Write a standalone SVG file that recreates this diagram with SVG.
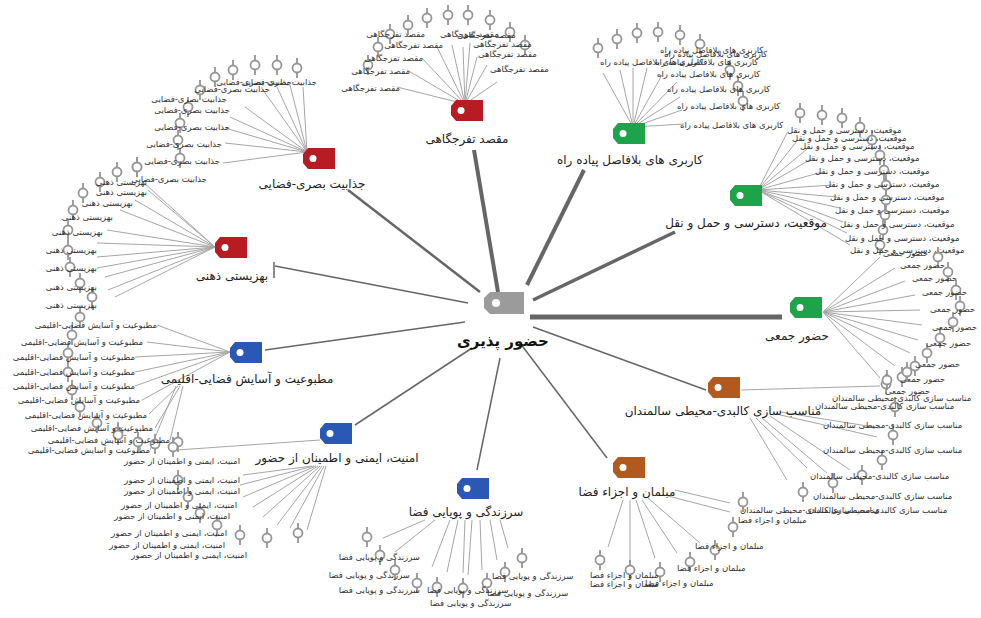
<svg xmlns="http://www.w3.org/2000/svg" xmlns:xlink="http://www.w3.org/1999/xlink" width="981" height="618" viewBox="0 0 981 618">
<style>
.bg{fill:#fff}
.main{stroke:#666;stroke-linecap:butt;fill:none}
.lk{stroke:#a6a6a6;stroke-width:1;fill:none}
.lf{font-family:"DejaVu Sans",sans-serif;font-size:8.5px;fill:#333}
.e{text-anchor:end}
.cat{font-family:"DejaVu Sans",sans-serif;font-size:12px;fill:#222;text-anchor:middle}
.ctr{font-family:"DejaVu Sans",sans-serif;font-size:15px;font-weight:bold;fill:#111;text-anchor:middle}
.red{fill:#b81c22}.grn{fill:#1ea34b}.brn{fill:#b25a1e}.blu{fill:#2b58b5}.gry{fill:#9b9b9b}
</style>
<defs>
<g id="pin" fill="#fff" stroke="#959595" stroke-width="1.8">
<line x1="0" y1="-10" x2="0" y2="-4.5"/><circle r="4.5"/><line x1="0" y1="4.5" x2="0" y2="10"/>
</g>
<g id="tag"><path d="M5,0 H32 V21 H5 L0,15 V6 Z"/><circle cx="10" cy="10.5" r="3.5" fill="#fff"/></g>
</defs>
<rect class="bg" width="981" height="618"/>

<g id="connectors">
<line class="main" x1="498" y1="292" x2="474" y2="150" stroke-width="4"/>
<line class="main" x1="527" y1="285" x2="584" y2="170" stroke-width="4"/>
<line class="main" x1="533" y1="300" x2="675" y2="232" stroke-width="3.5"/>
<line class="main" x1="530" y1="317" x2="782" y2="317" stroke-width="5"/>
<line class="main" x1="533" y1="327" x2="706" y2="390" stroke-width="1.5"/>
<line class="main" x1="520" y1="343" x2="607" y2="458" stroke-width="1.5"/>
<line class="main" x1="500" y1="358" x2="477" y2="470" stroke-width="1.5"/>
<line class="main" x1="472" y1="348" x2="355" y2="425" stroke-width="1.5"/>
<line class="main" x1="465" y1="322" x2="265" y2="350" stroke-width="1.5"/>
<line class="main" x1="468" y1="303" x2="275" y2="266" stroke-width="1.5"/>
<line class="main" x1="274" y1="262" x2="274" y2="278" stroke-width="1.5"/>
<line class="main" x1="480" y1="292" x2="348" y2="190" stroke-width="2.5"/>
<path class="lk" d="M465,104L397,87M465,104L407,70M465,104L422,58M465,104L437,47M465,104L452,45M465,104L463,47M465,104L470,43M465,104L477,57M465,104L487,65M465,104L497,82"/>
<path class="lk" d="M633,127L603,73M633,127L620,70M633,127L633,68M633,127L647,68M633,127L662,75M633,127L677,82M633,127L680,97M633,127L682,110M633,127L684,124"/>
<path class="lk" d="M758,190L787,133M758,190L797,141M758,190L807,149M758,190L813,158M758,190L822,172M758,190L832,185M758,190L837,197M758,190L840,208M758,190L843,222M758,190L847,233M758,190L850,245"/>
<path class="lk" d="M823,312L880,257M823,312L895,268M823,312L905,281M823,312L915,295M823,312L920,310M823,312L922,325M823,312L918,340M823,312L910,353M823,312L895,366M823,312L880,378"/>
<path class="lk" d="M741,390L880,386M750,418L787,480M756,418L807,468M762,418L827,473M770,416L850,470M776,414L877,437M780,412L880,428"/>
<path class="lk" d="M623,500L608,547M630,500L630,563M636,500L655,558M642,500L677,553M648,498L700,543M668,496L730,512M675,490L730,503"/>
<path class="lk" d="M425,520L383,538M435,520L395,552M450,520L432,567M458,520L447,572M465,520L463,573M472,520L468,575M480,520L482,570M490,520L497,560M500,520L508,548"/>
<path class="lk" d="M312,466L243,475M314,466L240,485M316,466L243,497M318,466L253,507M320,466L263,517M322,466L277,525M324,466L290,528M326,466L307,530M320,440L177,450"/>
<path class="lk" d="M230,352L157,325M230,352L147,342M230,352L135,357M230,352L135,372M230,352L135,386M230,352L142,400M178,386L149,414M180,386L155,428M183,386L170,440M176,386L150,450"/>
<path class="lk" d="M215,247L143,182M215,247L148,190M215,247L135,200M215,247L120,210M215,247L107,230M215,247L97,243M215,247L97,257M215,247L97,268M215,247L105,277M215,247L108,290M215,247L115,297"/>
<path class="lk" d="M307,152L303,87M307,152L290,85M307,152L277,87M307,152L263,90M307,152L245,107M307,152L230,117M307,152L225,128M307,152L225,143M307,152L223,163"/>
</g>

<g id="leaves-1">
<use href="#pin" x="368" y="65"/><use href="#pin" x="378" y="47"/><use href="#pin" x="390" y="34"/><use href="#pin" x="408" y="25"/><use href="#pin" x="427" y="18"/><use href="#pin" x="448" y="15"/><use href="#pin" x="468" y="15"/><use href="#pin" x="490" y="20"/><use href="#pin" x="510" y="32"/><use href="#pin" x="525" y="45"/>
<text class="lf e" x="400" y="91">مقصد تفرجگاهی</text>
<text class="lf e" x="410" y="74">مقصد تفرجگاهی</text>
<text class="lf e" x="423" y="61">مقصد تفرجگاهی</text>
<text class="lf e" x="443" y="48">مقصد تفرجگاهی</text>
<text class="lf e" x="425" y="37">مقصد تفرجگاهی</text>
<text class="lf" x="440" y="37">مقصد تفرجگاهی</text>
<text class="lf" x="457" y="38">مقصد تفرجگاهی</text>
<text class="lf" x="473" y="47">مقصد تفرجگاهی</text>
<text class="lf" x="478" y="57">مقصد تفرجگاهی</text>
<text class="lf" x="490" y="72">مقصد تفرجگاهی</text>
</g>

<g id="leaves-2">
<use href="#pin" x="598" y="48"/><use href="#pin" x="617" y="39"/><use href="#pin" x="637" y="33"/><use href="#pin" x="658" y="32"/><use href="#pin" x="680" y="35"/><use href="#pin" x="700" y="44"/><use href="#pin" x="730" y="70"/><use href="#pin" x="738" y="86"/><use href="#pin" x="743" y="101"/>
<text class="lf" x="660" y="53">کاربری های بلافاصل پیاده راه</text>
<text class="lf" x="664" y="57">کاربری های بلافاصل پیاده راه</text>
<text class="lf" x="600" y="65">کاربری های بلافاصل پیاده راه</text>
<text class="lf" x="655" y="65">کاربری های بلافاصل پیاده راه</text>
<text class="lf" x="657" y="77">کاربری های بلافاصل پیاده راه</text>
<text class="lf" x="667" y="92">کاربری های بلافاصل پیاده راه</text>
<text class="lf" x="677" y="109">کاربری های بلافاصل پیاده راه</text>
<text class="lf" x="680" y="128">کاربری های بلافاصل پیاده راه</text>
</g>

<g id="leaves-3">
<use href="#pin" x="800" y="113"/><use href="#pin" x="822" y="115"/><use href="#pin" x="842" y="118"/><use href="#pin" x="860" y="127"/><use href="#pin" x="872" y="140"/><use href="#pin" x="880" y="155"/><use href="#pin" x="884" y="170"/><use href="#pin" x="886" y="185"/><use href="#pin" x="886" y="200"/><use href="#pin" x="885" y="215"/><use href="#pin" x="883" y="230"/><use href="#pin" x="880" y="245"/>
<text class="lf" x="787" y="133">موقعیت، دسترسی و حمل و نقل</text>
<text class="lf" x="792" y="141">موقعیت، دسترسی و حمل و نقل</text>
<text class="lf" x="800" y="149">موقعیت، دسترسی و حمل و نقل</text>
<text class="lf" x="805" y="161">موقعیت، دسترسی و حمل و نقل</text>
<text class="lf" x="815" y="174">موقعیت، دسترسی و حمل و نقل</text>
<text class="lf" x="825" y="187">موقعیت، دسترسی و حمل و نقل</text>
<text class="lf" x="830" y="200">موقعیت، دسترسی و حمل و نقل</text>
<text class="lf" x="835" y="213">موقعیت، دسترسی و حمل و نقل</text>
<text class="lf" x="840" y="227">موقعیت، دسترسی و حمل و نقل</text>
<text class="lf" x="845" y="241">موقعیت، دسترسی و حمل و نقل</text>
<text class="lf" x="850" y="253">موقعیت، دسترسی و حمل و نقل</text>
</g>

<g id="leaves-4">
<use href="#pin" x="938" y="257"/><use href="#pin" x="948" y="272"/><use href="#pin" x="956" y="290"/><use href="#pin" x="960" y="306"/><use href="#pin" x="953" y="322"/><use href="#pin" x="940" y="338"/><use href="#pin" x="927" y="353"/><use href="#pin" x="915" y="366"/><use href="#pin" x="902" y="377"/><use href="#pin" x="886" y="384"/>
<text class="lf" x="883" y="256">حضور جمعی</text>
<text class="lf" x="900" y="268">حضور جمعی</text>
<text class="lf" x="912" y="281">حضور جمعی</text>
<text class="lf" x="922" y="295">حضور جمعی</text>
<text class="lf" x="930" y="312">حضور جمعی</text>
<text class="lf" x="932" y="330">حضور جمعی</text>
<text class="lf" x="926" y="346">حضور جمعی</text>
<text class="lf" x="915" y="367">حضور جمعی</text>
<text class="lf" x="900" y="382">حضور جمعی</text>
<text class="lf" x="885" y="394">حضور جمعی</text>
</g>

<g id="leaves-5">
<use href="#pin" x="887" y="380"/><use href="#pin" x="907" y="372"/><use href="#pin" x="895" y="407"/><use href="#pin" x="893" y="435"/><use href="#pin" x="882" y="460"/><use href="#pin" x="862" y="475"/><use href="#pin" x="833" y="483"/><use href="#pin" x="803" y="492"/><use href="#pin" x="743" y="502"/>
<text class="lf" x="832" y="401">مناسب سازی کالبدی-محیطی سالمندان</text>
<text class="lf" x="815" y="409">مناسب سازی کالبدی-محیطی سالمندان</text>
<text class="lf" x="823" y="428">مناسب سازی کالبدی-محیطی سالمندان</text>
<text class="lf" x="823" y="453">مناسب سازی کالبدی-محیطی سالمندان</text>
<text class="lf" x="810" y="479">مناسب سازی کالبدی-محیطی سالمندان</text>
<text class="lf" x="813" y="499">مناسب سازی کالبدی-محیطی سالمندان</text>
<text class="lf" x="808" y="513">مناسب سازی کالبدی-محیطی سالمندان</text>
<text class="lf" x="740" y="513">مناسب سازی کالبدی-محیطی سالمندان</text>
</g>

<g id="leaves-6">
<use href="#pin" x="733" y="527"/><use href="#pin" x="715" y="550"/><use href="#pin" x="690" y="562"/><use href="#pin" x="660" y="572"/><use href="#pin" x="630" y="570"/><use href="#pin" x="600" y="560"/>
<text class="lf" x="738" y="523">مبلمان و اجزاء فضا</text>
<text class="lf" x="695" y="549">مبلمان و اجزاء فضا</text>
<text class="lf" x="677" y="571">مبلمان و اجزاء فضا</text>
<text class="lf" x="645" y="586">مبلمان و اجزاء فضا</text>
<text class="lf" x="590" y="578">مبلمان و اجزاء فضا</text>
<text class="lf" x="590" y="587">مبلمان و اجزاء فضا</text>
</g>

<g id="leaves-7">
<use href="#pin" x="367" y="537"/><use href="#pin" x="380" y="555"/><use href="#pin" x="395" y="570"/><use href="#pin" x="417" y="583"/><use href="#pin" x="437" y="587"/><use href="#pin" x="463" y="588"/><use href="#pin" x="487" y="583"/><use href="#pin" x="505" y="572"/><use href="#pin" x="522" y="558"/>
<text class="lf e" x="420" y="560">سرزندگی و پویایی فضا</text>
<text class="lf e" x="410" y="578">سرزندگی و پویایی فضا</text>
<text class="lf e" x="420" y="593">سرزندگی و پویایی فضا</text>
<text class="lf" x="427" y="593">سرزندگی و پویایی فضا</text>
<text class="lf" x="492" y="579">سرزندگی و پویایی فضا</text>
<text class="lf" x="487" y="596">سرزندگی و پویایی فضا</text>
<text class="lf" x="430" y="606">سرزندگی و پویایی فضا</text>
</g>

<g id="leaves-8">
<use href="#pin" x="118" y="432"/><use href="#pin" x="138" y="442"/><use href="#pin" x="178" y="442"/><use href="#pin" x="178" y="480"/><use href="#pin" x="188" y="497"/><use href="#pin" x="200" y="513"/><use href="#pin" x="217" y="525"/><use href="#pin" x="240" y="535"/><use href="#pin" x="267" y="538"/><use href="#pin" x="298" y="533"/>
<text class="lf e" x="240" y="464">امنیت، ایمنی و اطمینان از حضور</text>
<text class="lf e" x="240" y="483">امنیت، ایمنی و اطمینان از حضور</text>
<text class="lf e" x="240" y="494">امنیت، ایمنی و اطمینان از حضور</text>
<text class="lf e" x="237" y="508">امنیت، ایمنی و اطمینان از حضور</text>
<text class="lf e" x="230" y="519">امنیت، ایمنی و اطمینان از حضور</text>
<text class="lf e" x="227" y="536">امنیت، ایمنی و اطمینان از حضور</text>
<text class="lf e" x="225" y="548">امنیت، ایمنی و اطمینان از حضور</text>
<text class="lf e" x="247" y="558">امنیت، ایمنی و اطمینان از حضور</text>
</g>

<g id="leaves-9">
<use href="#pin" x="80" y="317"/><use href="#pin" x="72" y="335"/><use href="#pin" x="68" y="353"/><use href="#pin" x="68" y="372"/><use href="#pin" x="72" y="390"/><use href="#pin" x="80" y="407"/><use href="#pin" x="97" y="423"/><use href="#pin" x="118" y="435"/><use href="#pin" x="155" y="444"/><use href="#pin" x="173" y="447"/>
<text class="lf e" x="157" y="328">مطبوعیت و آسایش فضایی-اقلیمی</text>
<text class="lf e" x="143" y="345">مطبوعیت و آسایش فضایی-اقلیمی</text>
<text class="lf e" x="135" y="360">مطبوعیت و آسایش فضایی-اقلیمی</text>
<text class="lf e" x="135" y="375">مطبوعیت و آسایش فضایی-اقلیمی</text>
<text class="lf e" x="135" y="389">مطبوعیت و آسایش فضایی-اقلیمی</text>
<text class="lf e" x="140" y="403">مطبوعیت و آسایش فضایی-اقلیمی</text>
<text class="lf e" x="147" y="418">مطبوعیت و آسایش فضایی-اقلیمی</text>
<text class="lf e" x="153" y="431">مطبوعیت و آسایش فضایی-اقلیمی</text>
<text class="lf e" x="170" y="443">مطبوعیت و آسایش فضایی-اقلیمی</text>
<text class="lf e" x="150" y="453">مطبوعیت و آسایش فضایی-اقلیمی</text>
</g>

<g id="leaves-10">
<use href="#pin" x="100" y="182"/><use href="#pin" x="117" y="172"/><use href="#pin" x="137" y="167"/><use href="#pin" x="83" y="193"/><use href="#pin" x="73" y="210"/><use href="#pin" x="68" y="230"/><use href="#pin" x="68" y="250"/><use href="#pin" x="70" y="267"/><use href="#pin" x="80" y="283"/><use href="#pin" x="92" y="297"/>
<text class="lf e" x="147" y="185">بهزیستی ذهنی</text>
<text class="lf e" x="147" y="195">بهزیستی ذهنی</text>
<text class="lf e" x="133" y="206">بهزیستی ذهنی</text>
<text class="lf e" x="113" y="220">بهزیستی ذهنی</text>
<text class="lf e" x="103" y="235">بهزیستی ذهنی</text>
<text class="lf e" x="97" y="253">بهزیستی ذهنی</text>
<text class="lf e" x="97" y="271">بهزیستی ذهنی</text>
<text class="lf e" x="97" y="290">بهزیستی ذهنی</text>
<text class="lf e" x="97" y="308">بهزیستی ذهنی</text>
</g>

<g id="leaves-11">
<use href="#pin" x="297" y="68"/><use href="#pin" x="277" y="65"/><use href="#pin" x="255" y="65"/><use href="#pin" x="233" y="70"/><use href="#pin" x="215" y="77"/><use href="#pin" x="200" y="90"/><use href="#pin" x="188" y="107"/><use href="#pin" x="180" y="123"/><use href="#pin" x="178" y="140"/><use href="#pin" x="180" y="158"/><use href="#pin" x="137" y="167"/>
<text class="lf e" x="317" y="85">جذابیت بصری-فضایی</text>
<text class="lf e" x="292" y="85">جذابیت بصری-فضایی</text>
<text class="lf e" x="270" y="92">جذابیت بصری-فضایی</text>
<text class="lf e" x="227" y="102">جذابیت بصری-فضایی</text>
<text class="lf e" x="230" y="113">جذابیت بصری-فضایی</text>
<text class="lf e" x="230" y="130">جذابیت بصری-فضایی</text>
<text class="lf e" x="222" y="147">جذابیت بصری-فضایی</text>
<text class="lf e" x="220" y="164">جذابیت بصری-فضایی</text>
<text class="lf e" x="207" y="182">جذابیت بصری-فضایی</text>
</g>

<g id="node-center">
<path class="gry" d="M6,0 H40 V22 H6 L0,16 V6 Z" transform="translate(484,292)"/>
<circle cx="496" cy="303" r="4" fill="#fff"/>
<text class="ctr" x="503" y="346">حضور پذیری</text>
</g>
<g id="node-1"><use href="#tag" class="red" x="451" y="100"/><text class="cat" x="467" y="143">مقصد تفرجگاهی</text></g>
<g id="node-2"><use href="#tag" class="grn" x="613" y="123"/><text class="cat" x="630" y="164">کاربری های بلافاصل پیاده راه</text></g>
<g id="node-3"><use href="#tag" class="grn" x="730" y="185"/><text class="cat" x="746" y="227">موقعیت، دسترسی و حمل و نقل</text></g>
<g id="node-4"><use href="#tag" class="grn" x="790" y="297"/><text class="cat" x="797" y="340">حضور جمعی</text></g>
<g id="node-5"><use href="#tag" class="brn" x="708" y="377"/><text class="cat" x="723" y="415">مناسب سازی کالبدی-محیطی سالمندان</text></g>
<g id="node-6"><use href="#tag" class="brn" x="613" y="457"/><text class="cat" x="627" y="496">مبلمان و اجزاء فضا</text></g>
<g id="node-7"><use href="#tag" class="blu" x="457" y="478"/><text class="cat" x="466" y="516">سرزندگی و پویایی فضا</text></g>
<g id="node-8"><use href="#tag" class="blu" x="320" y="423"/><text class="cat" x="337" y="462">امنیت، ایمنی و اطمینان از حضور</text></g>
<g id="node-9"><use href="#tag" class="blu" x="230" y="342"/><text class="cat" x="247" y="383">مطبوعیت و آسایش فضایی-اقلیمی</text></g>
<g id="node-10"><use href="#tag" class="red" x="215" y="237"/><text class="cat" x="232" y="280">بهزیستی ذهنی</text></g>
<g id="node-11"><use href="#tag" class="red" x="303" y="148"/><text class="cat" x="312" y="188">جذابیت بصری-فضایی</text></g>
</svg>
